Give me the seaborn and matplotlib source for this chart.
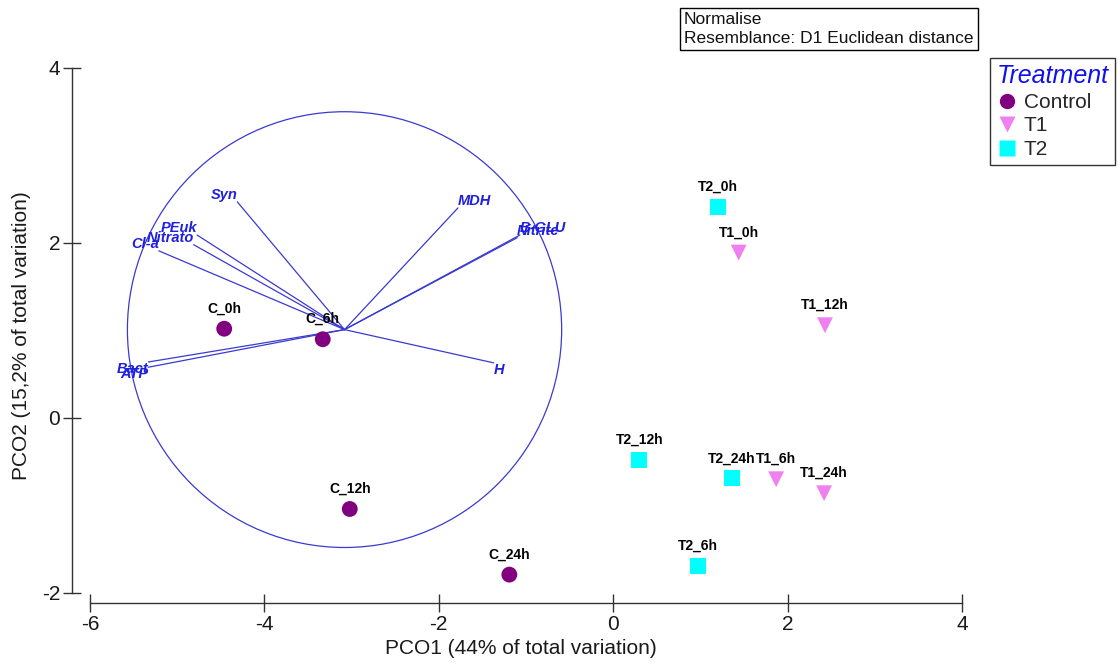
import numpy as np
import pandas as pd
import matplotlib
matplotlib.use("Agg")
import matplotlib.pyplot as plt
from matplotlib.patches import Circle
from matplotlib.lines import Line2D
import seaborn as sns

# Sample scores on the first two principal coordinates
samples = ["C_0h", "C_6h", "C_12h", "C_24h",
           "T1_0h", "T1_6h", "T1_12h", "T1_24h",
           "T2_0h", "T2_6h", "T2_12h", "T2_24h"]
treatment = ["Control"] * 4 + ["T1"] * 4 + ["T2"] * 4
pco1 = [-4.46, -3.33, -3.02, -1.19,
        1.44, 1.87, 2.43, 2.42,
        1.20, 0.97, 0.30, 1.36]
pco2 = [1.02, 0.90, -1.04, -1.79,
        1.89, -0.70, 1.06, -0.86,
        2.41, -1.69, -0.48, -0.69]

# Variable vectors (correlation overlay): end points in PCO space
variables = ["Syn", "PEuk", "Nitrato", "Cl-a", "Bact", "ATP",
             "MDH", "Nitrite", "B-GLU", "H"]
vec_x = [-4.31, -4.77, -4.81, -5.21, -5.33, -5.33, -1.78, -1.10, -1.07, -1.37]
vec_y = [2.47, 2.09, 1.98, 1.91, 0.64, 0.58, 2.40, 2.06, 2.09, 0.63]
circle_center = (-3.08, 1.01)
circle_radius = 2.49

x_ticks = [-6, -4, -2, 0, 2, 4]
y_ticks = [-2, 0, 2, 4]

groups = ["Control", "T1", "T2"]
colors = {"Control": "#800080", "T1": "#f080f0", "T2": "#00ffff"}
markers = {"Control": "o", "T1": "v", "T2": "s"}

df = pd.DataFrame({"Sample": samples, "Treatment": treatment,
                   "PCO1": pco1, "PCO2": pco2})

sns.set_theme(style="white")
plt.rcParams["font.family"] = ["Liberation Sans", "DejaVu Sans"]

fig = plt.figure(figsize=(11.19, 6.69), dpi=100)
ax = fig.add_axes([0.0643, 0.0987, 0.8031, 0.7997])

vec_color = "#3a3ad0"
label_blue = "#1f1fe0"

# Correlation circle and vectors
ax.add_patch(Circle(circle_center, circle_radius, fill=False,
                    edgecolor=vec_color, lw=0.9, zorder=1))
cx, cy = circle_center
for name, ex, ey in zip(variables, vec_x, vec_y):
    ax.plot([cx, ex], [cy, ey], color=vec_color, lw=0.9, zorder=1)
    ha = "right" if ex < cx else "left"
    va = "bottom" if ey > cy else "top"
    ax.text(ex, ey, name, ha=ha, va=va, color=label_blue,
            fontsize=10.5, fontstyle="italic", fontweight="bold", zorder=3)

# Sample points
sns.scatterplot(data=df, x="PCO1", y="PCO2", hue="Treatment", style="Treatment",
                palette=colors, markers=markers, hue_order=groups,
                style_order=groups, s=130, edgecolor="none", legend=False,
                ax=ax, zorder=2)

for name, x, y in zip(samples, pco1, pco2):
    ax.annotate(name, (x, y), xytext=(0, 14.5), textcoords="offset points",
                ha="center", va="center", fontsize=10, fontweight="bold",
                color="black", zorder=4)

# Axes: detached spines with crossing ticks
ax.set_xlim(-6.206, 4.1)
ax.set_ylim(-2.114, 4.0)
for side in ["top", "right"]:
    ax.spines[side].set_visible(False)
ax.spines["left"].set_bounds(-2, 4)
ax.spines["bottom"].set_bounds(-6, 4)
for side in ["left", "bottom"]:
    ax.spines[side].set_color("#333333")
    ax.spines[side].set_linewidth(1.0)
    ax.spines[side].set_clip_on(False)
ax.set_xticks(x_ticks)
ax.set_yticks(y_ticks)
ax.set_xticklabels([str(t) for t in x_ticks])
ax.set_yticklabels([str(t) for t in y_ticks])
ax.tick_params(axis="both", which="major", bottom=True, left=True,
               direction="inout", length=13, width=1.0,
               color="#333333", labelsize=15, labelcolor="#1a1a1a", pad=2)
ax.set_xlabel("PCO1 (44% of total variation)", fontsize=15, color="#1a1a1a",
              labelpad=4)
ax.set_ylabel("PCO2 (15,2% of total variation)", fontsize=15, color="#1a1a1a",
              labelpad=8)
ax.grid(False)

# Legend
handles = [Line2D([], [], linestyle="none", marker=markers[g],
                  markerfacecolor=colors[g], markeredgecolor="none",
                  markersize=11 if g != "T1" else 12)
           for g in groups]
leg = fig.legend(handles, groups, title="Treatment", loc="upper right",
                 bbox_to_anchor=(0.9964, 0.9133), frameon=True, fancybox=False,
                 edgecolor="black", fontsize=15, title_fontsize=18,
                 handletextpad=0.3, handlelength=1.0, borderpad=0.3,
                 borderaxespad=0.0, labelspacing=0.22, alignment="left")
leg.get_frame().set_linewidth(1.0)
leg.get_title().set_color("#1010ee")
leg.get_title().set_fontstyle("italic")

# Method annotation
fig.text(0.6113, 1 - 12 / 669, "Normalise\nResemblance: D1 Euclidean distance",
         ha="left", va="top", fontsize=12.5, color="#111111", linespacing=1.3,
         bbox=dict(boxstyle="square,pad=0.25", facecolor="white",
                   edgecolor="black", linewidth=1.0))

fig.savefig("out.png", dpi=100)
